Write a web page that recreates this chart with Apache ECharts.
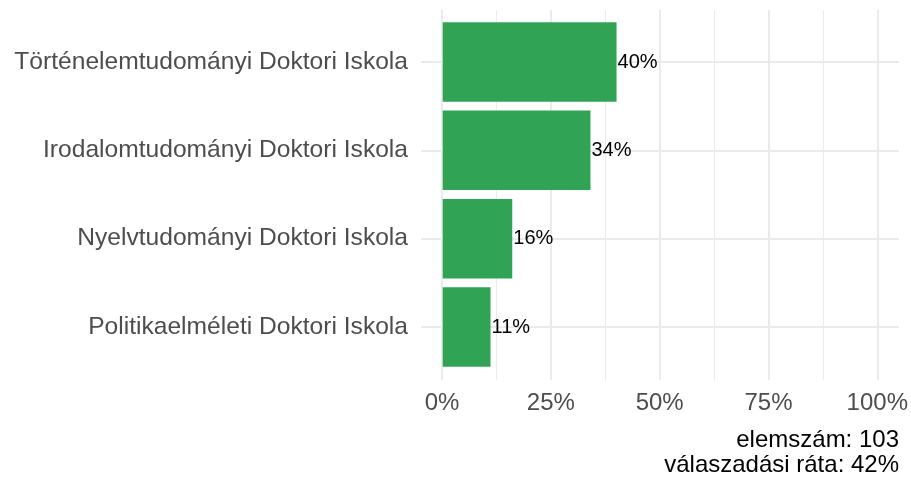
<!DOCTYPE html>
<html lang="hu">
<head>
    <meta charset="UTF-8">
    <title>Doktori iskolák</title>
    <script src="https://cdn.jsdelivr.net/npm/echarts@6/dist/echarts.min.js"></script>
    <style>
        html, body { margin: 0; padding: 0; background: #fff; }
        #chart { width: 911px; height: 480px; }
    </style>
</head>
<body>
<div id="chart"></div>
<script>
    var categories = [
        'Történelemtudományi Doktori Iskola',
        'Irodalomtudományi Doktori Iskola',
        'Nyelvtudományi Doktori Iskola',
        'Politikaelméleti Doktori Iskola'
    ]
    var values = [40, 34, 16, 11]
    var captionLines = ['elemszám: 103', 'válaszadási ráta: 42%']

    var font = 'Liberation Sans, Arial, Helvetica, sans-serif'
    var gridColor = '#ebebeb'

    // one right-aligned title per caption line
    var captions = captionLines.map(function (line, i) {
        return {
            text: line,
            right: 12,
            top: 428 + i * 25,
            padding: 0,
            textStyle: { fontSize: 24, fontWeight: 'normal', color: '#000', fontFamily: font }
        }
    })

    var myChart = echarts.init(document.getElementById('chart'))
    myChart.setOption({
        animation: false,
        backgroundColor: '#fff',
        textStyle: { fontFamily: font },
        title: captions,
        grid: [
            // vertical grid lines and x labels
            { left: 442, right: 33, top: 10, bottom: 100 },
            // bars, category labels and horizontal grid lines
            { left: 421, right: 12, top: 62, bottom: 153 }
        ],
        xAxis: [{
            gridIndex: 0,
            type: 'value',
            min: 0,
            max: 100,
            interval: 25,
            axisLine: { show: false },
            axisTick: { show: false },
            axisLabel: { formatter: '{value}%', color: '#4d4d4d', fontSize: 24, margin: 11 },
            splitLine: { show: true, lineStyle: { color: gridColor, width: 2 } },
            minorTick: { show: false, splitNumber: 2 },
            minorSplitLine: { show: true, lineStyle: { color: gridColor, width: 1 } }
        }, {
            gridIndex: 1,
            type: 'value',
            min: -5,
            max: 105,
            show: false
        }],
        yAxis: [{
            gridIndex: 0,
            type: 'value',
            show: false
        }, {
            gridIndex: 1,
            type: 'category',
            data: categories,
            inverse: true,
            boundaryGap: false,
            axisLine: { show: false },
            axisTick: { show: false },
            axisLabel: { color: '#4d4d4d', fontSize: 24.6, margin: 13 },
            splitLine: { show: true, lineStyle: { color: gridColor, width: 2 } }
        }],
        series: [{
            type: 'bar',
            xAxisIndex: 1,
            yAxisIndex: 1,
            data: values,
            barWidth: '90%',
            clip: false,
            itemStyle: { color: '#30a354' },
            label: {
                show: true,
                position: 'right',
                distance: 1,
                formatter: '{c}%',
                color: '#000',
                fontSize: 20
            }
        }]
    })
</script>
</body>
</html>
